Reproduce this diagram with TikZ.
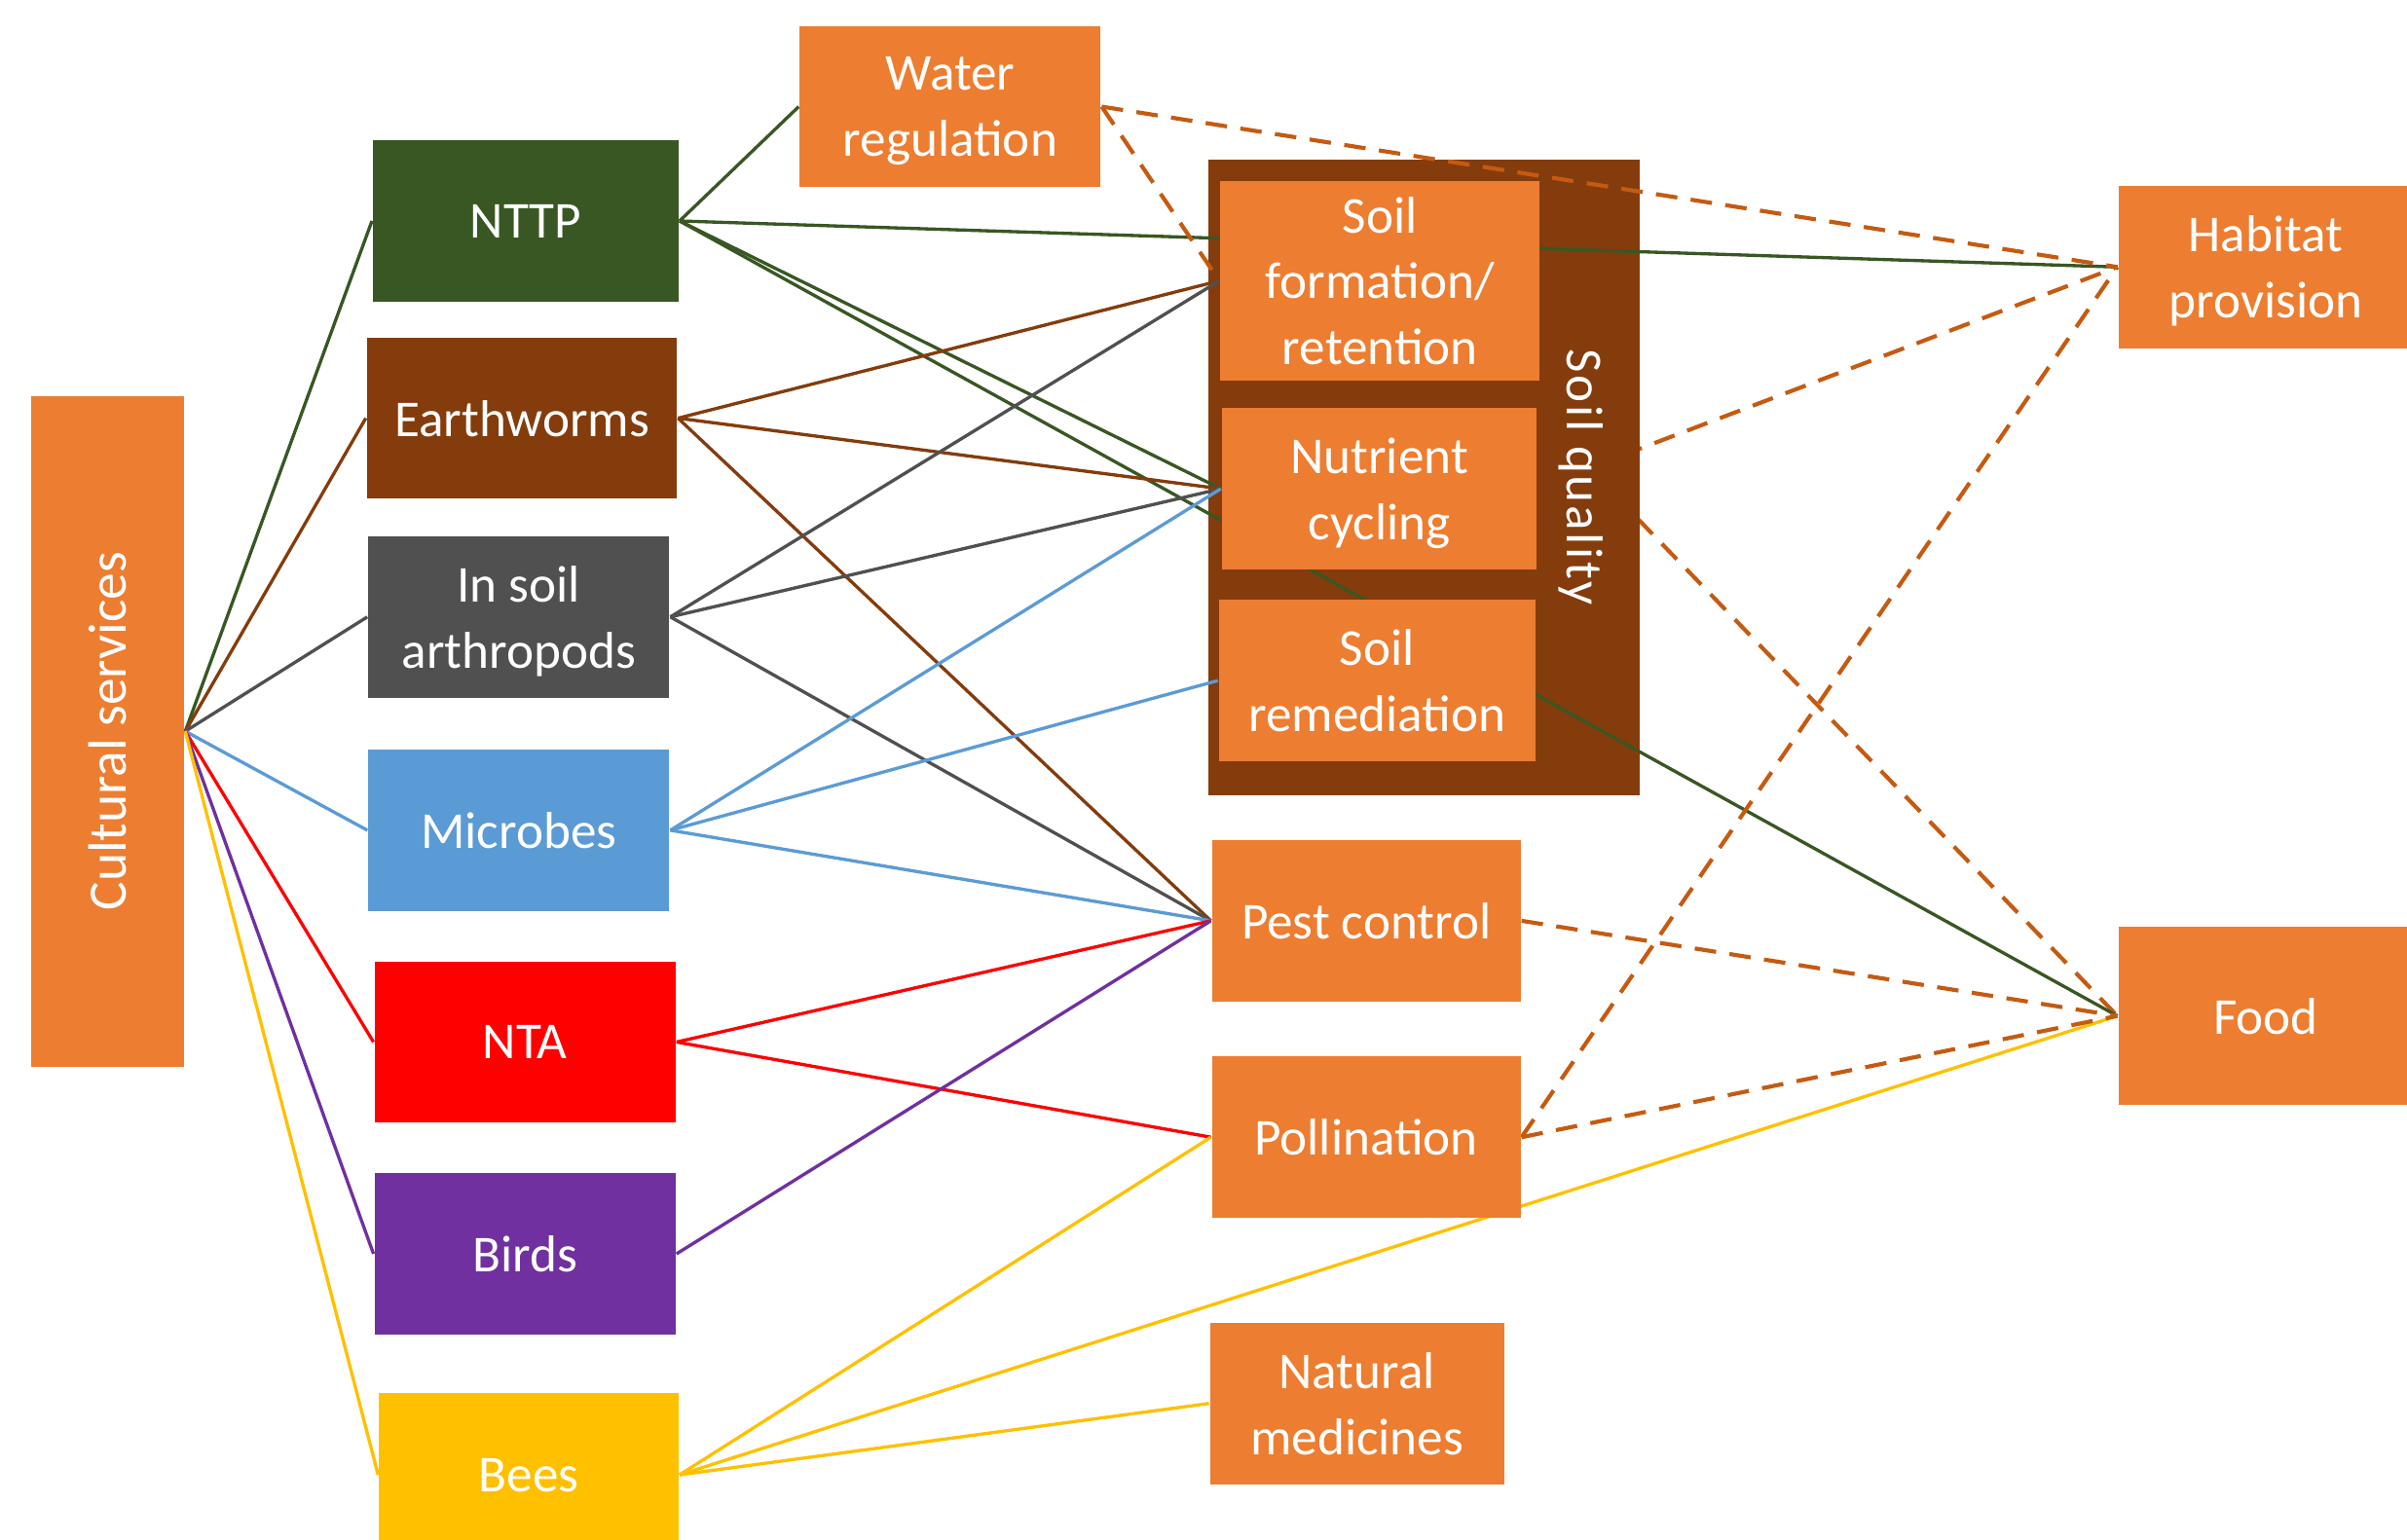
\documentclass[tikz,border=0pt]{standalone}
\usepackage{fontspec}
\newfontfamily\calib{Carlito}
\newfontfamily\calibwide[LetterSpace=5]{Carlito}

\definecolor{orangebox}{HTML}{ED7D31}
\definecolor{soilbrown}{HTML}{843C0C}
\definecolor{nttpgreen}{HTML}{385723}
\definecolor{armgray}{HTML}{505050}
\definecolor{microblue}{HTML}{5B9BD5}
\definecolor{birdpurple}{HTML}{7030A0}
\definecolor{beeyellow}{HTML}{FFC000}
\definecolor{dashorange}{HTML}{C55A11}

\pgfdeclarelayer{hidden}
\pgfdeclarelayer{panel}
\pgfdeclarelayer{links}
\pgfsetlayers{hidden,panel,links,main}

\begin{document}
\begin{tikzpicture}[
  box/.style={rectangle, fill=#1, text=white, align=center, inner sep=0pt, text depth=0pt,
    minimum width=1.96cm, minimum height=1.05cm, font=\calib\fontsize{9.6}{12.2}\selectfont},
  link/.style={draw=#1, line width=0.6pt},
  dashlink/.style={draw=dashorange, line width=0.75pt, dash pattern=on 4pt off 2.5pt}
]
\useasboundingbox (0,0) rectangle (15.68,-10.03);
\node [box=orangebox, minimum width=1cm, minimum height=4.37cm, font=\calib\fontsize{10}{12}\selectfont] (cult) at (0.70,-4.765) {\rotatebox{90}{Cultural services}};
\node [box=nttpgreen, minimum width=1.99cm] (nttp) at (3.425,-1.44) {NTTP};
\node [box=soilbrown, minimum width=2.02cm] (worms) at (3.40,-2.725) {Earthworms};
\node [box=armgray] (arthro) at (3.38,-4.02) {In soil\\arthropods};
\node [box=microblue] (microbes) at (3.38,-5.41) {Microbes};
\node [box=red] (nta) at (3.42,-6.79) {NTA};
\node [box=birdpurple] (birds) at (3.42,-8.17) {Birds};
\node [box=beeyellow, minimum width=1.95cm, minimum height=1.06cm] (bees) at (3.445,-9.61) {Bees};
\node [box=orangebox] (water) at (6.19,-0.695) {Water\\regulation};
\node [box=orangebox, minimum width=2.08cm, minimum height=1.30cm] (soilform) at (8.99,-1.83) {Soil\\formation/\\retention};
\node [box=orangebox, minimum width=2.05cm] (nutrient) at (8.985,-3.185) {Nutrient\\cycling};
\node [box=orangebox, minimum width=2.06cm] (remed) at (8.97,-4.435) {Soil\\remediation};
\node [box=orangebox, minimum width=2.01cm, minimum height=1.055cm] (pest) at (8.90,-6.00) {Pest control};
\node [box=orangebox, minimum width=2.01cm, minimum height=1.055cm] (poll) at (8.90,-7.41) {Pollination};
\node [box=orangebox, minimum width=1.915cm] (medic) at (8.84,-9.145) {Natural\\medicines};
\node [box=orangebox, minimum width=1.92cm, minimum height=1.06cm] (habitat) at (14.76,-1.74) {Habitat\\provision};
\node [box=orangebox, minimum width=1.92cm, minimum height=1.165cm] (food) at (14.76,-6.62) {Food};
\node [text=white, inner sep=0pt, font=\calibwide\fontsize{9.6}{12}\selectfont] (sqlabel) at (10.30,-3.11) {\rotatebox{-90}{Soil quality}};
\coordinate (sqhub) at (10.35,-3.05);

\begin{pgfonlayer}{hidden}
\draw [dashlink] (sqhub) -- (habitat.west);
\draw [dashlink] (sqhub) -- (food.west);
\end{pgfonlayer}

\begin{pgfonlayer}{panel}
\node [fill=soilbrown, minimum width=2.81cm, minimum height=4.14cm, inner sep=0pt] (sqbox) at (9.275,-3.11) {};
\end{pgfonlayer}

\begin{pgfonlayer}{links}
\foreach \n/\c in {nttp/nttpgreen, worms/soilbrown, arthro/armgray, microbes/microblue, nta/red, birds/birdpurple, bees/beeyellow}
  \draw [link=\c] (cult.east) -- (\n.west);
\foreach \t in {water, habitat, nutrient, food}
  \draw [link=nttpgreen] (nttp.east) -- (\t.west);
\foreach \t in {soilform, nutrient, pest}
  \draw [link=soilbrown] (worms.east) -- (\t.west);
\foreach \t in {soilform, nutrient, pest}
  \draw [link=armgray] (arthro.east) -- (\t.west);
\foreach \t in {nutrient, remed, pest}
  \draw [link=microblue] (microbes.east) -- (\t.west);
\foreach \t in {pest, poll}
  \draw [link=red] (nta.east) -- (\t.west);
\draw [link=birdpurple] (birds.east) -- (pest.west);
\foreach \t in {poll, food, medic}
  \draw [link=beeyellow] (bees.east) -- (\t.west);
\draw [dashlink] (water.east) -- (habitat.west);
\draw [dashlink] (water.east) -- (soilform.west);
\draw [dashlink] (pest.east) -- (food.west);
\draw [dashlink] (poll.east) -- (food.west);
\draw [dashlink] (poll.east) -- (habitat.west);
\end{pgfonlayer}
\end{tikzpicture}
\end{document}
